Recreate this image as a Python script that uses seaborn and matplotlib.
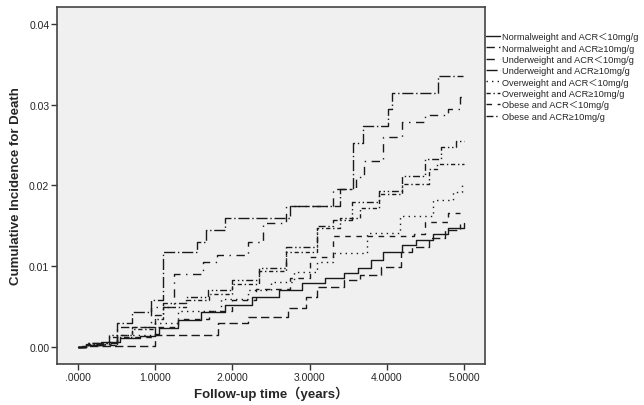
import matplotlib
matplotlib.use("Agg")
import matplotlib.pyplot as plt
import seaborn as sns
import pandas as pd
from matplotlib.lines import Line2D

# group labels (legend order)
labels = [
    "Normalweight and ACR＜10mg/g",
    "Normalweight and ACR≥10mg/g",
    "Underweight and ACR＜10mg/g",
    "Underweight and ACR≥10mg/g",
    "Overweight and ACR＜10mg/g",
    "Overweight and ACR≥10mg/g",
    "Obese and ACR＜10mg/g",
    "Obese and ACR≥10mg/g",
]

# step curves (time in years, cumulative incidence)
t_nw_lo = [0, 0.1, 0.3, 0.55, 0.8, 1.0, 1.05, 1.3, 1.6, 1.9, 2.25, 2.6, 2.9, 3.2, 3.45, 3.63, 3.8, 3.95, 4.2, 4.38, 4.6, 4.8, 5.0]
y_nw_lo = [0, 0.0002, 0.0006, 0.0011, 0.0014, 0.0016, 0.0024, 0.0033, 0.0043, 0.0052, 0.0062, 0.0070, 0.0079, 0.0086, 0.0092, 0.0098, 0.0108, 0.0118, 0.0126, 0.0133, 0.0140, 0.0147, 0.0154]

t_nw_hi = [0, 0.05, 1.0, 1.82, 2.2, 2.72, 2.95, 3.1, 3.45, 3.65, 3.93, 4.18, 4.33, 4.55, 4.75, 4.95]
y_nw_hi = [0, 0.0001, 0.0015, 0.0030, 0.0037, 0.0048, 0.0062, 0.0074, 0.0083, 0.0089, 0.0099, 0.0117, 0.0124, 0.0135, 0.0145, 0.0152]

t_uw_lo = [0, 0.1, 0.5, 0.95, 1.25, 1.62, 1.8, 2.2, 2.4, 2.7, 3.3, 3.6, 3.7, 3.95, 4.2, 4.5, 4.8, 4.95, 5.0]
y_uw_lo = [0, 0.0004, 0.0025, 0.0050, 0.0090, 0.0105, 0.0114, 0.0130, 0.0154, 0.0174, 0.0195, 0.0210, 0.0230, 0.0260, 0.0278, 0.0287, 0.0294, 0.0310, 0.0310]

t_uw_hi = [0, 0.1, 0.5, 0.7, 0.95, 1.1, 1.54, 1.66, 1.9, 2.75, 3.4, 3.56, 3.69, 4.02, 4.07, 4.66, 4.99]
y_uw_hi = [0, 0.0005, 0.0030, 0.0043, 0.0058, 0.0117, 0.0130, 0.0145, 0.0160, 0.0174, 0.0195, 0.0253, 0.0273, 0.0294, 0.0314, 0.0335, 0.0335]

t_ow_lo = [0, 0.1, 0.5, 1.0, 1.3, 1.85, 2.2, 2.5, 2.8, 3.1, 3.3, 3.74, 4.17, 4.6, 4.86, 4.98, 5.0]
y_ow_lo = [0, 0.0003, 0.0015, 0.0030, 0.0045, 0.0060, 0.0070, 0.0080, 0.0093, 0.0105, 0.0116, 0.0141, 0.0162, 0.0182, 0.0192, 0.0203, 0.0203]

t_ow_hi = [0, 0.1, 0.4, 0.7, 1.0, 1.1, 1.4, 1.7, 2.0, 2.35, 2.7, 3.1, 3.4, 3.65, 3.9, 4.2, 4.55, 4.65, 5.0]
y_ow_hi = [0, 0.0004, 0.0013, 0.0022, 0.0035, 0.0050, 0.0058, 0.0066, 0.0078, 0.0094, 0.0118, 0.0147, 0.0160, 0.0172, 0.0189, 0.0202, 0.0220, 0.0226, 0.0226]

t_ob_lo = [0, 0.1, 0.5, 1.0, 1.3, 1.7, 2.0, 2.3, 2.75, 3.0, 3.3, 4.35, 4.5, 4.8, 4.95]
y_ob_lo = [0, 0.0003, 0.0012, 0.0025, 0.0035, 0.0045, 0.0058, 0.0072, 0.0085, 0.0112, 0.0137, 0.0140, 0.0155, 0.0166, 0.0166]

t_ob_hi = [0, 0.1, 0.4, 0.7, 1.0, 1.1, 1.4, 1.68, 2.0, 2.34, 2.7, 3.1, 3.3, 3.55, 3.9, 4.2, 4.5, 4.7, 4.9, 5.0]
y_ob_hi = [0, 0.0005, 0.0015, 0.0025, 0.0040, 0.0055, 0.0062, 0.0070, 0.0083, 0.0098, 0.0124, 0.0150, 0.0157, 0.0180, 0.0193, 0.0212, 0.0233, 0.0248, 0.0255, 0.0255]

x_ticks = [0, 1, 2, 3, 4, 5]
x_ticklabels = [".0000", "1.0000", "2.0000", "3.0000", "4.0000", "5.0000"]
y_ticks = [0.00, 0.01, 0.02, 0.03, 0.04]
y_ticklabels = ["0.00", "0.01", "0.02", "0.03", "0.04"]

times = [t_nw_lo, t_nw_hi, t_uw_lo, t_uw_hi, t_ow_lo, t_ow_hi, t_ob_lo, t_ob_hi]
values = [y_nw_lo, y_nw_hi, y_uw_lo, y_uw_hi, y_ow_lo, y_ow_hi, y_ob_lo, y_ob_hi]

# line styles, roughly like the SPSS output
styles = [
    "-",
    (0, (6, 3)),
    (0, (6, 4, 1, 4)),
    (0, (8, 2, 1, 2)),
    (0, (1, 3)),
    (0, (3, 2, 1, 2)),
    (0, (4, 4)),
    (0, (5, 2, 1, 2, 1, 2)),
]

sns.set_style("white")
plt.rcParams["font.family"] = ["Liberation Sans", "Noto Sans CJK SC", "DejaVu Sans"]

fig = plt.figure(figsize=(6.44, 4.06), dpi=100)
ax = fig.add_axes([0.0885, 0.101, 0.6645, 0.879])
ax.set_facecolor("#f0f0f0")

handles = []
for lab, tt, yy, ls in zip(labels, times, values, styles):
    df = pd.DataFrame({"t": tt, "y": yy})
    sns.lineplot(data=df, x="t", y="y", ax=ax, estimator=None, sort=False,
                 drawstyle="steps-post", color="#1a1a1a", linewidth=1.0,
                 linestyle=ls)
    handles.append(Line2D([], [], color="#1a1a1a", linewidth=1.0, linestyle=ls))

ax.set_xlim(-0.272, 5.272)
ax.set_ylim(-0.0021, 0.04206)
ax.set_xticks(x_ticks)
ax.set_xticklabels(x_ticklabels)
ax.set_yticks(y_ticks)
ax.set_yticklabels(y_ticklabels)
ax.tick_params(axis="both", direction="out", length=4, width=1, color="#333333",
               labelsize=7.5, pad=1.5, bottom=True, left=True)
for sp in ax.spines.values():
    sp.set_color("#444444")
    sp.set_linewidth(1.2)

ax.set_xlabel("Follow-up time（years）", fontsize=9.5, fontweight="bold", labelpad=3)
ax.set_ylabel("Cumulative Incidence for Death", fontsize=9.5, fontweight="bold", labelpad=5)

ax.legend(handles, labels, loc="upper left", bbox_to_anchor=(0.998, 0.935),
          frameon=False, fontsize=6.7, handlelength=1.5, handletextpad=0.25,
          labelspacing=0.25, borderaxespad=0.2, borderpad=0.0)

fig.savefig("out.png", dpi=100)
